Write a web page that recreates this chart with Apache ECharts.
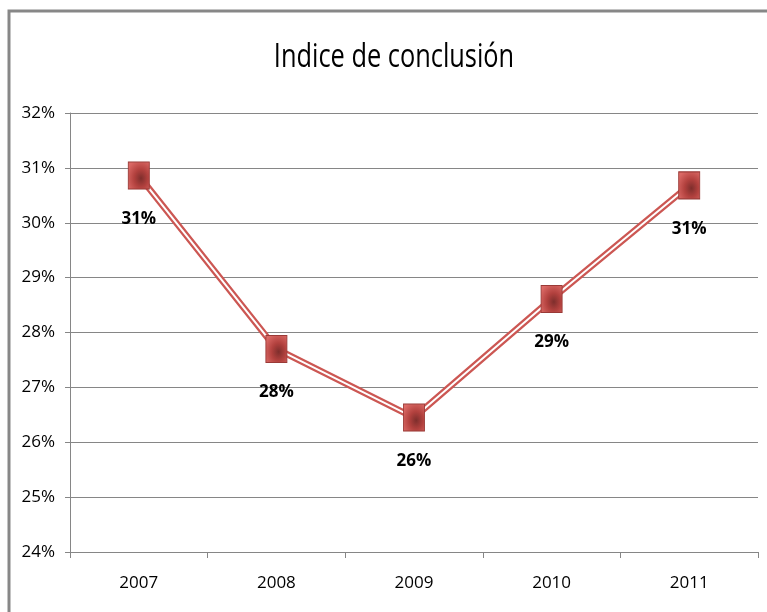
<!DOCTYPE html>
<html>
<head>
<meta charset="utf-8">
<script src="https://cdn.jsdelivr.net/npm/echarts@6/dist/echarts.min.js"></script>
<style>html,body{margin:0;padding:0;background:#fff;}#c{width:767px;height:612px;}</style>
</head>
<body>
<div id="c"></div>
<script>
const categories = ['2007', '2008', '2009', '2010', '2011'];
const values = [30.86, 27.70, 26.45, 28.61, 30.68];
const yMin = 24, yMax = 32, yStep = 1;
const titleText = 'Indice de conclusión';

const FONT = '"Open Sans", sans-serif';
const chart = echarts.init(document.getElementById('c'));
const markerFill = new echarts.graphic.RadialGradient(0.6, 0.6, 0.7, [
  {offset: 0, color: '#7e2e2c'}, {offset: 0.45, color: '#b2413e'}, {offset: 1, color: '#dc6a66'}
]);
chart.setOption({
  animation: false,
  backgroundColor: '#fff',
  graphic: [{
    type: 'rect', shape: {x: 9, y: 11, width: 900, height: 800},
    style: {fill: 'none', stroke: '#878787', lineWidth: 3}, silent: true
  }, {
    type: 'text', x: 394, y: 58, scaleX: 0.875, scaleY: 1.12, silent: true,
    style: {text: titleText, fill: '#000', font: '29px "Open Sans", sans-serif',
      align: 'center', verticalAlign: 'middle'}
  }],
  grid: {left: 70, right: 9, top: 113, bottom: 60, containLabel: false},
  xAxis: {
    type: 'category', data: categories, boundaryGap: true,
    axisLine: {lineStyle: {color: '#868686', width: 1}},
    axisTick: {show: true, length: 6, lineStyle: {color: '#868686'}},
    axisLabel: {fontFamily: FONT, fontSize: 17, color: '#000', margin: 23}
  },
  yAxis: {
    type: 'value', min: yMin, max: yMax, interval: yStep,
    axisLine: {show: true, lineStyle: {color: '#868686', width: 1}},
    axisTick: {show: true, length: 5, lineStyle: {color: '#868686'}},
    splitLine: {lineStyle: {color: '#868686', width: 1}},
    axisLabel: {fontFamily: FONT, fontSize: 17, color: '#000', margin: 15, formatter: '{value}%'}
  },
  series: [
    {type: 'line', data: values, symbol: 'none', z: 2,
     lineStyle: {color: '#cc5753', width: 6.5}},
    {type: 'line', data: values, symbol: 'none', z: 3,
     lineStyle: {color: '#fff', width: 2}},
    {type: 'line', data: values, z: 4, symbol: 'rect', symbolSize: [21, 27],
     lineStyle: {width: 0, opacity: 0},
     itemStyle: {color: markerFill, borderColor: '#9a3a37', borderWidth: 1},
     label: {show: true, position: 'bottom', distance: 21, fontFamily: FONT, fontSize: 17,
       fontWeight: 'bold', color: '#000',
       formatter: p => Math.round(p.value) + '%'}}
  ]
});
</script>
</body>
</html>
